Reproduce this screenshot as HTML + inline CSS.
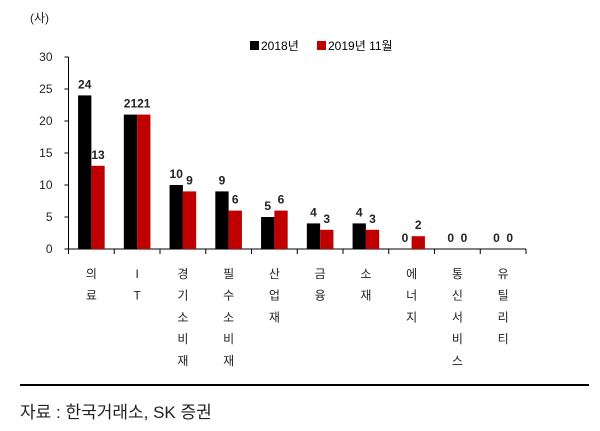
<!DOCTYPE html>
<html><head><meta charset="utf-8"><style>
body{margin:0;background:#fff;width:600px;height:431px;overflow:hidden;font-family:"Liberation Sans","Noto Sans CJK KR",sans-serif}
svg{position:absolute;left:0;top:0}
text{font-family:"Liberation Sans","Noto Sans CJK KR",sans-serif}
</style></head><body>
<svg width="600" height="431">
<text x="30" y="22" font-size="12" fill="#222">(사)</text>
<g>
<rect x="250" y="41" width="9" height="9" fill="#000"/>
<text x="261" y="50" font-size="12" fill="#000">2018년</text>
<rect x="317" y="41" width="9" height="9" fill="#c00000"/>
<text x="328" y="50" font-size="12" fill="#000">2019년 11월</text>
</g>
<g id="plot"></g>
<line x1="20" y1="385" x2="589" y2="385" stroke="#000" stroke-width="2"/>
<text x="20" y="418" font-size="17" fill="#222">자료 : 한국거래소, SK 증권</text>
</svg>
<script>
const categories=["의료","IT","경기소비재","필수소비재","산업재","금융","소재","에너지","통신서비스","유틸리티"];
const series2018=[24,21,10,9,5,4,4,0,0,0];
const series2019=[13,21,9,6,6,3,3,2,0,0];
const yTicks=[0,5,10,15,20,25,30];
const NS="http://www.w3.org/2000/svg";
const g=document.getElementById("plot");
const X0=68.5,X1=526,Y0=249,Y30=57;
const cw=(X1-X0)/categories.length;
const y=v=>Y0-(Y0-Y30)*v/30;
const cx=i=>X0+cw*(i+0.5);
function mk(t,a){const e=document.createElementNS(NS,t);for(const k in a)e.setAttribute(k,a[k]);g.appendChild(e);return e;}
let ax=mk("line",{x1:X0,y1:Y30,x2:X0,y2:Y0,stroke:"#000"});


let xx=mk("line",{x1:X0,y1:Y0,x2:X1,y2:Y0,stroke:"#000"});


yTicks.forEach(v=>{
 let t=mk("line",{x1:X0-4,y1:y(v),x2:X0,y2:y(v),stroke:"#000"});
 
 
 let l=mk("text",{x:X0-16,y:y(v)+4,"font-size":12,"text-anchor":"end",fill:"#222"});
 l.textContent=v;
 
 
});
for(let i=0;i<=categories.length;i++){
 let t=mk("line",{x1:X0+cw*i,y1:Y0,x2:X0+cw*i,y2:Y0+5,stroke:"#000"});
 
 
}
const bw=13.3;
categories.forEach((c,i)=>{
 const c0=cx(i);
 [[series2018[i],"#000",c0-bw,'bar-2018'],[series2019[i],"#c00000",c0,'bar-2019']].forEach(([v,col,bx,nm])=>{
  let r=mk("rect",{x:bx,y:y(v),width:bw,height:Y0-y(v),fill:col});
  
  
  let l=mk("text",{x:bx+bw/2,y:y(v)-7,"font-size":12,"font-weight":"bold","text-anchor":"middle",fill:"#222"});
  l.textContent=v;
  
  
 });
 let t=mk("text",{"font-size":12,"text-anchor":"middle",fill:"#222"});
 
 
 [...c].forEach((ch,k)=>{
  const s=document.createElementNS(NS,"tspan");
  s.setAttribute("x",c0);s.setAttribute("y",278+k*21.7);
  s.textContent=ch;t.appendChild(s);
 });
});
</script>
</body></html>
